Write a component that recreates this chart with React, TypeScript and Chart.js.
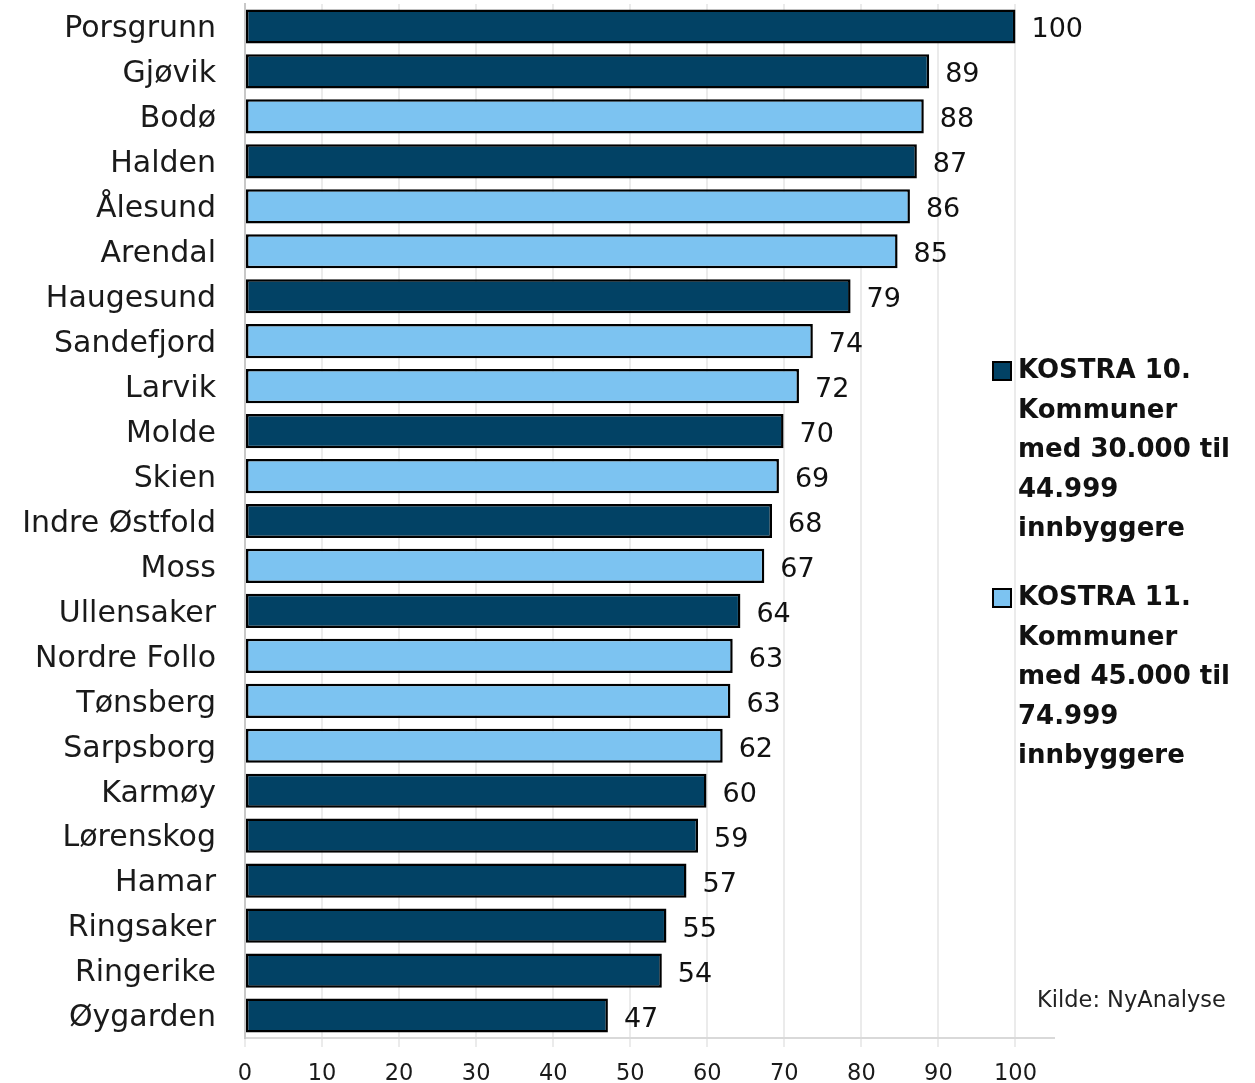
import React, { useEffect, useRef } from "react";
import { Chart, registerables } from "chart.js";

Chart.register(...registerables);

const categories = [
  "Porsgrunn", "Gjøvik", "Bodø", "Halden", "Ålesund", "Arendal", "Haugesund",
  "Sandefjord", "Larvik", "Molde", "Skien", "Indre Østfold", "Moss", "Ullensaker",
  "Nordre Follo", "Tønsberg", "Sarpsborg", "Karmøy", "Lørenskog", "Hamar",
  "Ringsaker", "Ringerike", "Øygarden",
];

const values = [
  100, 88.8, 88.1, 87.2, 86.3, 84.7, 78.6, 73.7, 71.9, 69.9, 69.3, 68.4, 67.4,
  64.3, 63.3, 63.0, 62.0, 59.9, 58.8, 57.3, 54.7, 54.1, 47.1,
];

// 10 = KOSTRA 10, 11 = KOSTRA 11
const groups = [
  10, 10, 11, 10, 11, 11, 10, 11, 11, 10, 11, 10, 11, 10, 11, 11, 11, 10, 10, 10,
  10, 10, 10,
];

const xTicks = [0, 10, 20, 30, 40, 50, 60, 70, 80, 90, 100];

const seriesNames = ["KOSTRA 10.", "KOSTRA 11."];
const legendLines10 = ["KOSTRA 10.", "Kommuner", "med 30.000 til", "44.999", "innbyggere"];
const legendLines11 = ["KOSTRA 11.", "Kommuner", "med 45.000 til", "74.999", "innbyggere"];

const DARK = "#024265";
const LIGHT = "#7CC3F1";
const FONT = "'DejaVu Sans', sans-serif";

const valueLabelPlugin = {
  id: "valueLabels",
  afterDatasetsDraw(chart: any) {
    const ctx = chart.ctx;
    ctx.save();
    ctx.font = "27px " + FONT;
    ctx.fillStyle = "#111111";
    ctx.textAlign = "left";
    ctx.textBaseline = "middle";
    chart.data.datasets.forEach((ds: any, di: number) => {
      const meta = chart.getDatasetMeta(di);
      meta.data.forEach((el: any, i: number) => {
        const v = ds.data[i];
        if (v === null || v === undefined) return;
        ctx.fillText(String(Math.round(v)), el.x + 16, el.y + 4);
      });
    });
    ctx.restore();
  },
};

export default function App() {
  const canvasRef = useRef<HTMLCanvasElement | null>(null);

  useEffect(() => {
    if (!canvasRef.current) return;
    const d10 = values.map((v, i) => (groups[i] === 10 ? v : null));
    const d11 = values.map((v, i) => (groups[i] === 11 ? v : null));
    const common = {
      borderColor: "#000000",
      borderWidth: 2.5,
      borderSkipped: false,
      barPercentage: 0.76,
      categoryPercentage: 1,
    };
    const chart = new Chart(canvasRef.current, {
      type: "bar",
      data: {
        labels: categories,
        datasets: [
          { label: seriesNames[0], data: d10, backgroundColor: DARK, ...common },
          { label: seriesNames[1], data: d11, backgroundColor: LIGHT, ...common },
        ],
      },
      options: {
        indexAxis: "y",
        responsive: false,
        animation: false,
        devicePixelRatio: 1,
        layout: { padding: { left: 0, top: 4, right: 201, bottom: 0 } },
        plugins: {
          legend: { display: false },
          tooltip: { enabled: false },
        },
        scales: {
          x: {
            stacked: true,
            min: 0,
            max: 105,
            afterBuildTicks: (scale: any) => {
              scale.ticks = xTicks.map((v) => ({ value: v }));
            },
            afterFit: (scale: any) => {
              scale.height = 45;
              scale.paddingLeft = 0;
              scale.paddingRight = 0;
            },
            grid: {
              color: "#ebebeb",
              lineWidth: 2,
              drawTicks: true,
              tickLength: 9,
              tickColor: "#ebebeb",
            },
            border: { display: true, color: "#d9d9d9", width: 2 },
            ticks: {
              font: { family: FONT, size: 22.5 },
              color: "#1a1a1a",
              padding: 14,
              maxRotation: 0,
              autoSkip: false,
            },
          },
          y: {
            stacked: true,
            afterFit: (scale: any) => {
              scale.width = 245;
              scale.paddingTop = 0;
              scale.paddingBottom = 0;
            },
            grid: { display: false, drawTicks: false },
            border: { display: true, color: "#c8c8c8", width: 2 },
            ticks: {
              font: { family: FONT, size: 30 },
              color: "#1a1a1a",
              padding: 29,
              labelOffset: 3,
              autoSkip: false,
            },
          },
        },
      },
      plugins: [valueLabelPlugin],
    } as any);
    return () => chart.destroy();
  }, []);

  const legendText: React.CSSProperties = {
    position: "absolute",
    left: 1018,
    fontFamily: FONT,
    fontWeight: "bold",
    fontSize: 26,
    lineHeight: "39.5px",
    color: "#111111",
    whiteSpace: "nowrap",
  };
  const square = (top: number, color: string): React.CSSProperties => ({
    position: "absolute",
    left: 992,
    top,
    width: 16,
    height: 16,
    border: "2px solid #000",
    background: color,
  });

  return (
    <div style={{ position: "absolute", left: 0, top: 0, width: 1255, height: 1083, background: "#fff" }}>
      <canvas ref={canvasRef} width={1255} height={1083} style={{ display: "block" }} />
      <div style={square(361, DARK)} />
      <div style={{ ...legendText, top: 350 }}>
        {legendLines10.map((l, i) => (
          <div key={i}>{l}</div>
        ))}
      </div>
      <div style={square(588, LIGHT)} />
      <div style={{ ...legendText, top: 577 }}>
        {legendLines11.map((l, i) => (
          <div key={i}>{l}</div>
        ))}
      </div>
      <div
        style={{
          position: "absolute",
          left: 1037,
          top: 986,
          fontFamily: FONT,
          fontSize: 22.5,
          color: "#222",
          whiteSpace: "nowrap",
        }}
      >
        Kilde: NyAnalyse
      </div>
    </div>
  );
}
